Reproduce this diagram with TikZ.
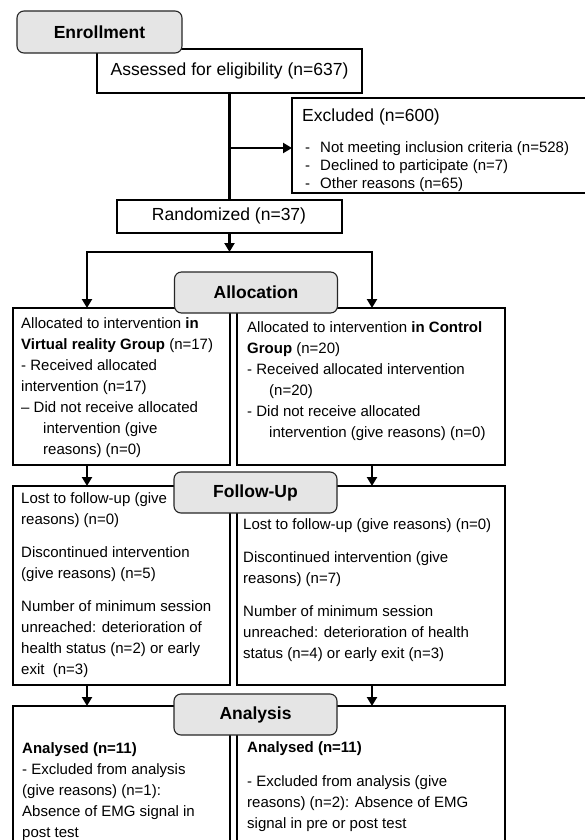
\documentclass[tikz,border=0pt]{standalone}
\usepackage{fontspec}
\setmainfont{Liberation Sans}
\usetikzlibrary{arrows.meta}
\begin{document}
\begin{tikzpicture}[x=1pt,y=-1pt,
  box/.style={draw, line width=2.6pt, inner sep=0pt, outer sep=0pt, anchor=north west},
  bigtxt/.style={inner sep=0pt, font=\fontsize{17.5}{21}\selectfont},
  phase/.style={draw=black!85, line width=1.1pt, fill=black!10, rounded corners=7pt,
              minimum width=163pt, minimum height=41pt, inner sep=0pt, outer sep=0pt,
              font=\fontsize{17.5}{21}\selectfont\bfseries},
  txt/.style={anchor=north west, inner sep=0pt, align=left, font=\fontsize{15}{21}\selectfont},
  conn/.style={line width=2.6pt},
  arr/.style={line width=2.6pt, -{Triangle[length=9pt,width=10pt]}},
]
\path[use as bounding box, fill=white] (0,0) rectangle (585,840);
\begin{scope}
\clip (0,0) rectangle (585,840);

% boxes
\node[box, minimum width=265pt, minimum height=44pt] (assess) at (97,49) {};
\node[bigtxt] (assesst) at (229.5,71) {Assessed for eligibility (n=637)};
\node[box, minimum width=320pt, minimum height=95pt] (excl) at (292,98) {};
\node[box, minimum width=225pt, minimum height=33pt] (rand) at (117,200) {};
\node[bigtxt] (randt) at (229,216) {Randomized (n=37)};
\node[box, minimum width=217pt, minimum height=157pt] (allocL) at (13,308) {};
\node[box, minimum width=268pt, minimum height=157pt] (allocR) at (237,308) {};
\node[box, minimum width=217pt, minimum height=199pt] (folL) at (13,486) {};
\node[box, minimum width=268pt, minimum height=199pt] (folR) at (237,486) {};
\node[box, minimum width=217pt, minimum height=200pt] (anaL) at (13,706) {};
\node[box, minimum width=268pt, minimum height=200pt] (anaR) at (237,706) {};

% connectors
\coordinate (exj) at (229.5,148);
\coordinate (split) at (229.5,252);
\coordinate (sl) at (87,252);
\coordinate (sr) at (372,252);
\draw[conn] (assess.south) -- (rand.north);
\draw[arr] (exj) -- (exj -| excl.west);
\draw[arr] (rand.south) -- (split);
\draw[arr] (sr) -- (sl) -- (sl |- allocL.north);
\draw[arr] (sl) -- (sr) -- (sr |- allocR.north);
\draw[arr] (allocL.south -| sl) -- (folL.north -| sl);
\draw[arr] (allocR.south -| sr) -- (folR.north -| sr);
\draw[arr] (folL.south -| sl) -- (anaL.north -| sl);
\draw[arr] (folR.south -| sr) -- (anaR.north -| sr);

% texts
\node[txt, font=\fontsize{17.5}{21}\selectfont] (exclt) at (302,106.3) {\strut Excluded (n=600)};
\node[txt, font=\fontsize{15}{18}\selectfont] (excll) at (305,139.4)
  {\strut\makebox[15pt][l]{-}Not meeting inclusion criteria (n=528)\\
   \makebox[15pt][l]{-}Declined to participate (n=7)\\
   \makebox[15pt][l]{-}Other reasons (n=65)};

\node[txt] (allocLt) at (21,313.3)
  {\strut Allocated to intervention \textbf{in}\\
   \textbf{Virtual reality Group} (n=17)\\
   - Received allocated\\
   intervention (n=17)\\
   – Did not receive allocated\\
   \hspace*{22pt}intervention (give\\
   \hspace*{22pt}reasons) (n=0)};
\node[txt] (allocRt) at (247,317.3)
  {\strut Allocated to intervention \textbf{in Control}\\
   \textbf{Group} (n=20)\\
   - Received allocated intervention\\
   \hspace*{22pt}(n=20)\\
   - Did not receive allocated\\
   \hspace*{22pt}intervention (give reasons) (n=0)};

\node[txt] (folLt) at (21,488.3)
  {\strut Lost to follow-up (give\\
   reasons) (n=0)\\[12pt]
   Discontinued intervention\\
   (give reasons) (n=5)\\[12pt]
   Number of minimum session\\
   unreached: deterioration of\\
   health status (n=2) or early\\
   exit\ \ (n=3)};
\node[txt] (folRt) at (243,514.3)
  {\strut Lost to follow-up (give reasons) (n=0)\\[12pt]
   Discontinued intervention (give\\
   reasons) (n=7)\\[12pt]
   Number of minimum session\\
   unreached: deterioration of health\\
   status (n=4) or early exit (n=3)};

\node[txt] (anaLt) at (22,738.3)
  {\strut\textbf{Analysed (n=11)}\\
   - Excluded from analysis\\
   (give reasons) (n=1):\\
   Absence of EMG signal in\\
   post test};
\node[txt] (anaRt) at (247,737.3)
  {\strut\textbf{Analysed (n=11)}\\[13pt]
   - Excluded from analysis (give\\
   reasons) (n=2): Absence of EMG\\
   signal in pre or post test};

% phase labels
\node[phase, minimum width=165pt, minimum height=42pt] (enr) at (99.5,32) {Enrollment};
\node[phase] (alloc) at (256,292.5) {Allocation};
\node[phase] (fol) at (255.5,492.5) {Follow-Up};
\node[phase] (ana) at (255.5,714.5) {Analysis};
\end{scope}
\end{tikzpicture}
\end{document}
